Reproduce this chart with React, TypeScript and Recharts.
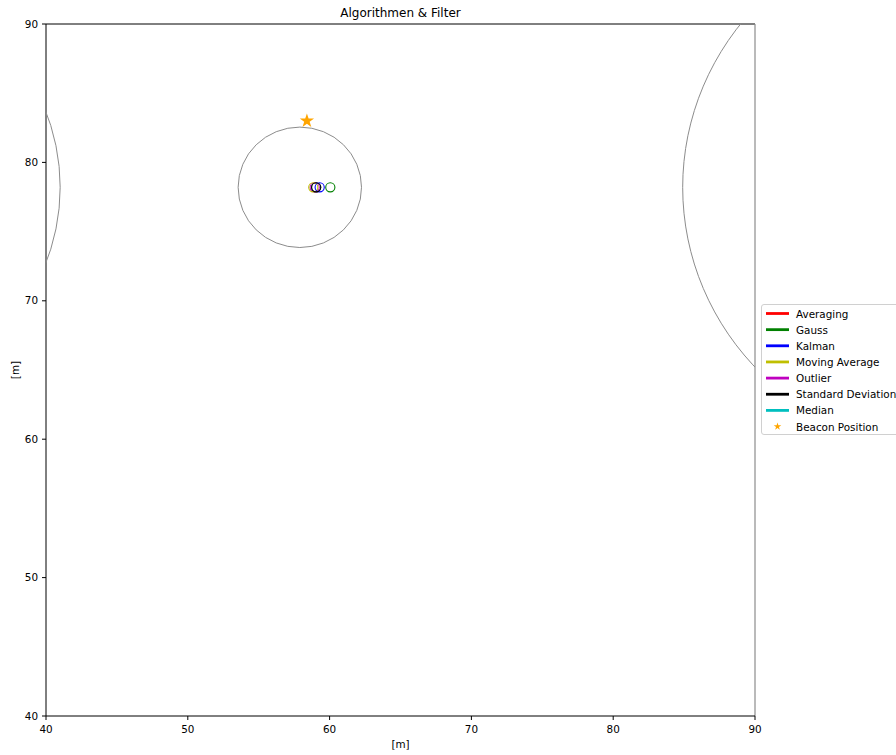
import { Label, Legend, ReferenceLine, Scatter, ScatterChart, XAxis, YAxis } from 'recharts'

const AXIS_TICKS = [40, 50, 60, 70, 80, 90]

// grey range circles (centre + radius in metres)
const RING_X = [25.6, 57.9, 104.0]
const RING_Y = [78.2, 78.2, 78.2]
const RING_R = [15.4, 4.35, 19.1]

const ALGORITHMS = ['Averaging', 'Gauss', 'Kalman', 'Moving Average', 'Outlier', 'Standard Deviation', 'Median']
const ALGO_COLORS = ['#ff0000', '#008000', '#0000ff', '#bfbf00', '#bf00bf', '#000000', '#00bfbf']
const ALGO_X = [59.05, 60.05, 59.3, 58.85, 58.95, 59.05, 59.05]
const ALGO_Y = [78.2, 78.2, 78.2, 78.2, 78.2, 78.2, 78.2]
// draw order so the black marker sits on top of the cluster like the original
const DRAW_ORDER = [0, 6, 4, 3, 2, 1, 5]

const BEACON_X = [58.4]
const BEACON_Y = [83.0]

const W = 896
const H = 755
const MARGIN = { top: 24, right: 141, bottom: 0, left: 0 }
const Y_AXIS_W = 46
const X_AXIS_H = 39
const PLOT_W = W - MARGIN.right - Y_AXIS_W
const PLOT_H = H - MARGIN.top - X_AXIS_H
const PX_X = PLOT_W / 50
const PX_Y = PLOT_H / 50

const FONT = '"DejaVu Sans", sans-serif'

const ringData = RING_X.map((x, i) => ({ x, y: RING_Y[i], r: RING_R[i] }))
const beaconData = BEACON_X.map((x, i) => ({ x, y: BEACON_Y[i] }))

function Ring(props: any) {
  const { cx, cy, payload } = props
  return (
    <ellipse
      cx={cx}
      cy={cy}
      rx={payload.r * PX_X}
      ry={payload.r * PX_Y}
      fill="none"
      stroke="#8c8c8c"
      strokeWidth={1}
    />
  )
}

function hollowDot(color: string) {
  return (props: any) => (
    <circle cx={props.cx} cy={props.cy} r={4.6} fill="none" stroke={color} strokeWidth={1.1} />
  )
}

function StarGlyph({ x, y, r }: { x: number; y: number; r: number }) {
  const pts: string[] = []
  for (let k = 0; k < 10; k++) {
    const a = -Math.PI / 2 + (k * Math.PI) / 5
    const rr = k % 2 === 0 ? r : r * 0.382
    pts.push(`${x + rr * Math.cos(a)},${y + rr * Math.sin(a)}`)
  }
  return <polygon points={pts.join(' ')} fill="#ffa500" />
}

function BeaconShape(props: any) {
  return <StarGlyph x={props.cx} y={props.cy} r={7.5} />
}

function LegendBox() {
  const rowH = 16.15
  return (
    <div
      style={{
        border: '1px solid #d0d0d0',
        borderRadius: 3,
        background: 'rgba(255,255,255,0.8)',
        width: 160,
        height: 131,
        boxSizing: 'border-box',
        position: 'relative',
        fontFamily: FONT,
        fontSize: 10.4,
        color: '#000',
      }}
    >
      <svg width={160} height={131} style={{ position: 'absolute', left: 0, top: 0 }}>
        {ALGORITHMS.map((name, i) => (
          <g key={name}>
            <line x1={4} x2={27} y1={8.5 + i * rowH} y2={8.5 + i * rowH} stroke={ALGO_COLORS[i]} strokeWidth={2.8} />
            <text x={34} y={8.5 + i * rowH} dominantBaseline="central" fontSize={10.4} fontFamily={FONT}>
              {name}
            </text>
          </g>
        ))}
        <StarGlyph x={15.5} y={8.5 + 7 * rowH} r={4} />
        <text x={34} y={8.5 + 7 * rowH} dominantBaseline="central" fontSize={10.4} fontFamily={FONT}>
          Beacon Position
        </text>
      </svg>
    </div>
  )
}

export default function App() {
  return (
    <div style={{ position: 'absolute', left: 0, top: 0, width: W, height: H, overflow: 'hidden', background: '#fff' }}>
      <div
        style={{
          position: 'absolute',
          top: 6,
          left: 0,
          width: W - MARGIN.right + Y_AXIS_W,
          textAlign: 'center',
          fontFamily: FONT,
          fontSize: 12,
        }}
      >
        Algorithmen &amp; Filter
      </div>
      <ScatterChart width={W} height={H} margin={MARGIN}>
        <XAxis
          dataKey="x"
          type="number"
          domain={[40, 90]}
          ticks={AXIS_TICKS}
          allowDataOverflow
          height={X_AXIS_H}
          stroke="#000"
          tickSize={4}
          tickMargin={6}
          tick={{ fill: '#000', fontSize: 10.4, fontFamily: FONT }}
        >
          <Label value="[m]" position="insideBottom" offset={7} style={{ fontSize: 10.4, fontFamily: FONT, fill: '#000' }} />
        </XAxis>
        <YAxis
          dataKey="y"
          type="number"
          domain={[40, 90]}
          ticks={AXIS_TICKS}
          allowDataOverflow
          width={Y_AXIS_W}
          stroke="#000"
          tickSize={4}
          tickMargin={4}
          tick={{ fill: '#000', fontSize: 10.4, fontFamily: FONT }}
        >
          <Label
            value="[m]"
            angle={-90}
            position="insideLeft"
            offset={15}
            style={{ fontSize: 10.4, fontFamily: FONT, fill: '#000', textAnchor: 'middle' }}
          />
        </YAxis>

        {/* frame: top spine black, right spine grey as in the original */}
        <ReferenceLine y={90} stroke="#000" strokeWidth={1} />
        <ReferenceLine x={90} stroke="#8c8c8c" strokeWidth={1.2} />

        <Scatter data={ringData} shape={Ring} isAnimationActive={false} legendType="none" />
        {DRAW_ORDER.map((i) => (
          <Scatter
            key={ALGORITHMS[i]}
            name={ALGORITHMS[i]}
            data={[{ x: ALGO_X[i], y: ALGO_Y[i] }]}
            shape={hollowDot(ALGO_COLORS[i])}
            isAnimationActive={false}
          />
        ))}
        <Scatter name="Beacon Position" data={beaconData} shape={BeaconShape} isAnimationActive={false} />

        <Legend
          layout="vertical"
          align="center"
          verticalAlign="middle"
          content={() => <LegendBox />}
          wrapperStyle={{ left: 761, top: 304, width: 160, height: 131 }}
        />
      </ScatterChart>
    </div>
  )
}
